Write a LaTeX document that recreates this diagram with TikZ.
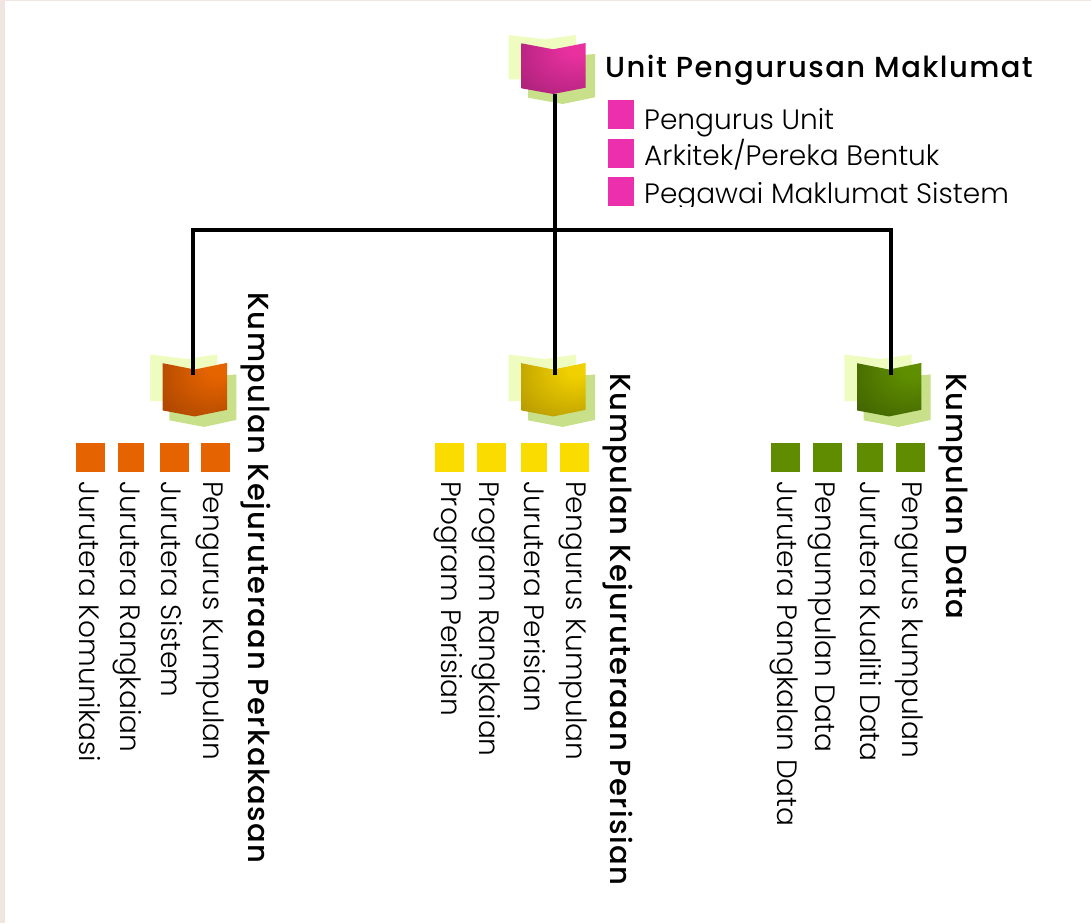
\documentclass[tikz,border=0pt]{standalone}
\usepackage{fontspec}
\setmainfont{Poppins}
\newfontfamily\headfont{Poppins Medium}[LetterSpace=5]
\newfontfamily\itemfont{Poppins Light}
\usepackage{tikz}

\definecolor{strip}{HTML}{EFE6E1}
\definecolor{paleback}{HTML}{EFFCC0}
\definecolor{greenback}{HTML}{C8E08A}
\definecolor{pinkhi}{HTML}{E8309F}
\definecolor{pinklo}{HTML}{9C1E70}
\definecolor{orangehi}{HTML}{E66400}
\definecolor{orangelo}{HTML}{9C3E00}
\definecolor{yellowhi}{HTML}{F0D000}
\definecolor{yellowlo}{HTML}{A88C00}
\definecolor{greenhi}{HTML}{5F8F00}
\definecolor{greenlo}{HTML}{3A5800}
\definecolor{pinksq}{HTML}{EC2FAC}
\definecolor{orangesq}{HTML}{E56300}
\definecolor{yellowsq}{HTML}{FBDC00}
\definecolor{greensq}{HTML}{5F8C00}

\pgfdeclareradialshading{glowpink}{\pgfpoint{20bp}{22bp}}{color(0bp)=(pinkhi);color(8bp)=(pinkhi);color(58bp)=(pinklo);color(100bp)=(pinklo)}
\pgfdeclareradialshading{gloworange}{\pgfpoint{20bp}{22bp}}{color(0bp)=(orangehi);color(8bp)=(orangehi);color(58bp)=(orangelo);color(100bp)=(orangelo)}
\pgfdeclareradialshading{glowyellow}{\pgfpoint{20bp}{22bp}}{color(0bp)=(yellowhi);color(8bp)=(yellowhi);color(58bp)=(yellowlo);color(100bp)=(yellowlo)}
\pgfdeclareradialshading{glowgreen}{\pgfpoint{20bp}{22bp}}{color(0bp)=(greenhi);color(8bp)=(greenhi);color(58bp)=(greenlo);color(100bp)=(greenlo)}

\tikzset{
  link/.style={line width=3.4pt,black},
  heading/.style={font=\fontsize{29}{29}\selectfont\headfont,anchor=base west,inner sep=0pt},
  entry/.style={font=\fontsize{28}{28}\selectfont\itemfont,anchor=base west,inner sep=0pt},
  bullet/.style={inner sep=0pt,minimum width=#1,minimum height=29pt},
  bullet/.default=29pt,
  book/.pic={
    \fill[paleback] (-44.6,-14.3) -- (-8.3,-10) -- (22.7,-14.3) -- (22.7,30) -- (-44.6,30) -- cycle;
    \fill[greenback] (41.7,4.7) -- (41.7,48) -- (9.4,54.7) -- (-25.3,48.4) -- (-25.3,10) -- cycle;
    \shade[shading=\pgfkeysvalueof{/tikz/bookglow}] (-32,-6) -- (0,0) -- (32.4,-6.3) -- (32.4,38.4) -- (0,44.7) -- (-32,39) -- cycle;
  },
  bookglow/.initial=glowpink
}

\begin{document}
\begin{tikzpicture}[x=1pt,y=-1pt]
\useasboundingbox (0,0) rectangle (1091,923);
\fill[strip] (0,0) rectangle (1091,1.5);
\fill[strip] (0,0) rectangle (5,923);

% books
\pic[bookglow=glowpink] at (553.3,49.3) {book};
\pic[bookglow=gloworange,yscale=1.05] at (194.7,369.5) {book};
\pic[bookglow=glowyellow,yscale=1.05] at (553.3,369.5) {book};
\pic[bookglow=glowgreen,yscale=1.05] at (889,369.5) {book};

% connectors
\coordinate (unit) at (555,94);
\coordinate (hub) at (555,230);
\coordinate (perkakasan) at (193,375);
\coordinate (perisian) at (555,375);
\coordinate (data) at (891,375);
\draw[link] (unit) -- (hub);
\draw[link] (hub) -- (perisian);
\draw[link] (perkakasan) |- (hub);
\draw[link] (data) |- (hub);

% top block
\node[heading] (T) at (605,78) {Unit Pengurusan Maklumat};
\node[bullet=26pt,fill=pinksq] (s1) at (621,114.5) {};
\node[bullet=26pt,fill=pinksq] (s2) at (621,153.5) {};
\node[bullet=26pt,fill=pinksq] (s3) at (621,191.5) {};
\node[entry] (t1) at (644,129) {Pengurus Unit};
\node[entry] (t2) at (644,165) {Arkitek/Pereka Bentuk};
\begin{scope}
\clip (640,170) rectangle (1030,206);
\node[entry] (t3) at (644,203) {Pegawai Maklumat Sistem};
\end{scope}

% group headings
\node[heading,rotate=-90] (A) at (248,292) {Kumpulan Kejuruteraan Perkakasan};
\node[heading,rotate=-90] (B) at (610,373) {Kumpulan Kejuruteraan Perisian};
\node[heading,rotate=-90] (C) at (946,373) {Kumpulan Data};

% squares
\foreach \x/\w/\n in {90.5/29/1,131/26/2,174.5/29/3,215.5/29/4}
  \node[bullet=\w pt,fill=orangesq] (a\n) at (\x,457.5) {};
\foreach \x/\w/\n in {449.5/29/1,491.5/29/2,534/26/3,574.5/29/4}
  \node[bullet=\w pt,fill=yellowsq] (b\n) at (\x,457.5) {};
\foreach \x/\w/\n in {785.5/29/1,827.5/29/2,870/26/3,910.5/29/4}
  \node[bullet=\w pt,fill=greensq] (c\n) at (\x,457.5) {};

% group entries
\node[entry,rotate=-90] (a4t) at (203,481) {Pengurus Kumpulan};
\node[entry,rotate=-90] (a3t) at (161,481) {Jurutera Sistem};
\node[entry,rotate=-90] (a2t) at (120,481) {Jurutera Rangkaian};
\node[entry,rotate=-90] (a1t) at (79,481) {Jurutera Komunikasi};

\node[entry,rotate=-90] (b4t) at (566,481) {Pengurus Kumpulan};
\node[entry,rotate=-90] (b3t) at (524,481) {Jurutera Perisian};
\node[entry,rotate=-90] (b2t) at (479,481) {Program Rangkaian};
\node[entry,rotate=-90] (b1t) at (441,481) {Program Perisian};

\node[entry,rotate=-90] (c4t) at (902,481) {Pengurus kumpulan};
\node[entry,rotate=-90] (c3t) at (860,481) {Jurutera Kualiti Data};
\node[entry,rotate=-90] (c2t) at (815,481) {Pengumpulan Data};
\node[entry,rotate=-90] (c1t) at (777,481) {Jurutera Pangkalan Data};
\end{tikzpicture}
\end{document}
